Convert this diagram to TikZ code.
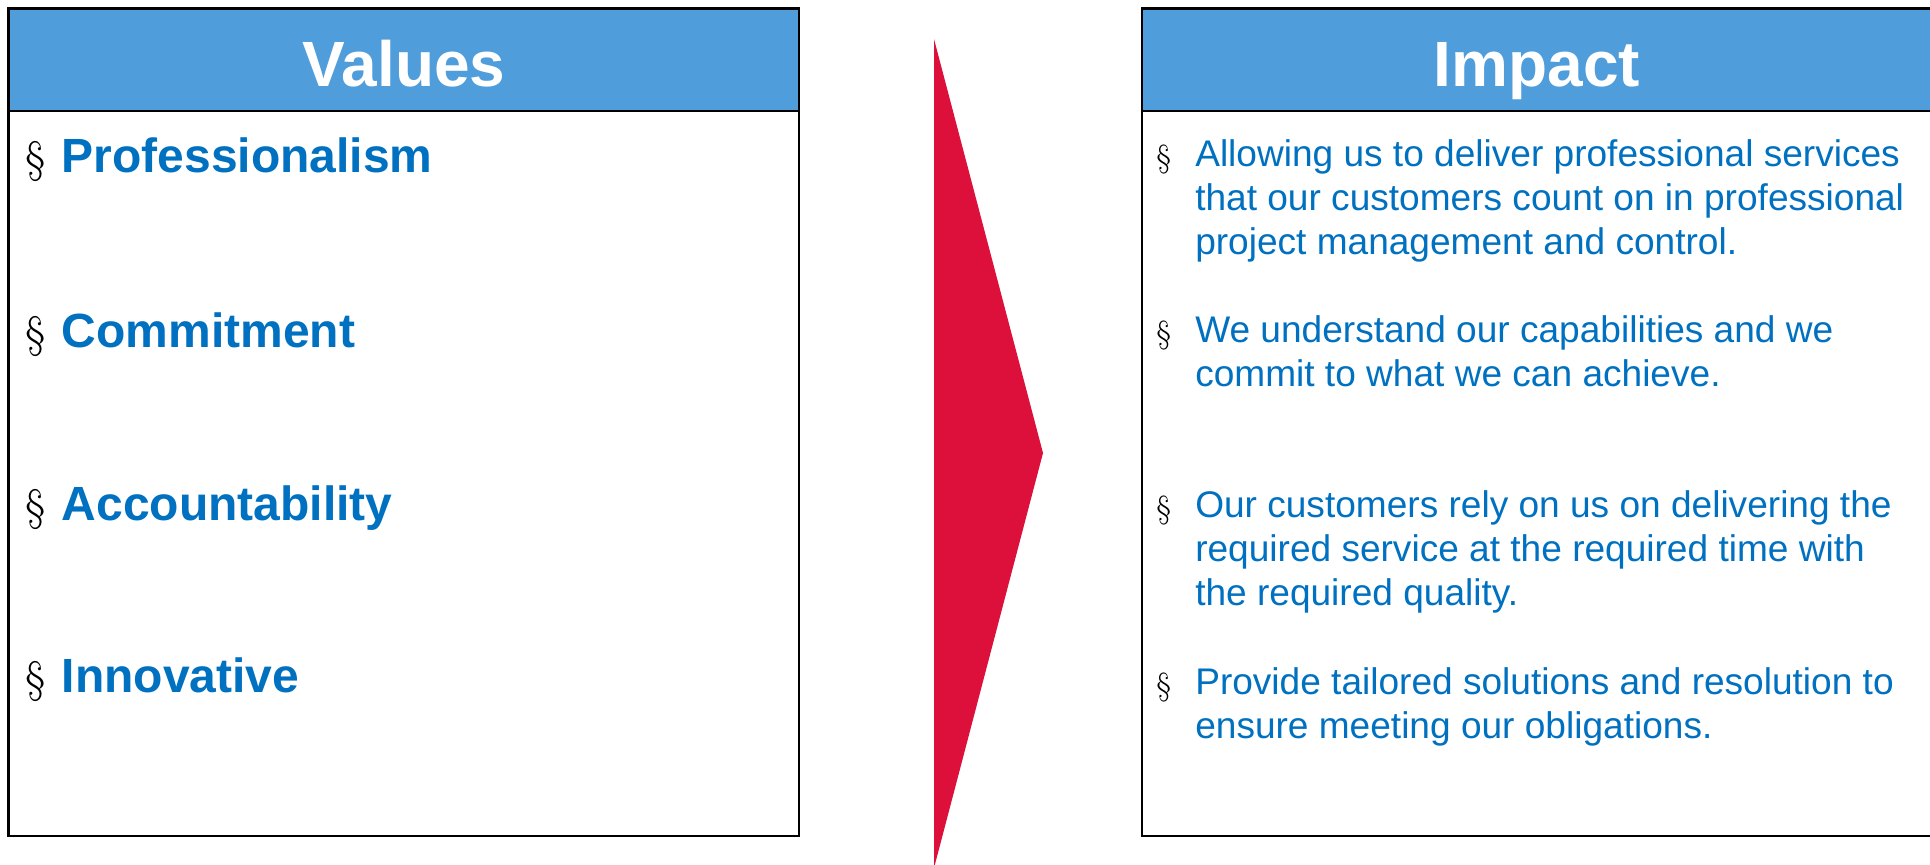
\documentclass[tikz,border=0pt]{standalone}
\usepackage{fontspec}
\newfontfamily\arial{Liberation Sans}
\definecolor{hdrblue}{RGB}{79,157,219}
\definecolor{txtblue}{RGB}{0,112,192}
\definecolor{arrred}{RGB}{220,16,58}
\tikzset{
  frame/.style={draw=black,line width=2.2pt},
  hdr/.style={fill=hdrblue},
  title/.style={anchor=base,inner sep=0pt,text=white,font=\arial\bfseries\fontsize{48}{50}\selectfont},
  sect/.style={anchor=base west,inner sep=0pt,text=black},
  valitem/.style={anchor=base west,inner sep=0pt,text=txtblue,font=\arial\bfseries\fontsize{36}{40}\selectfont},
  impitem/.style={anchor=base west,inner sep=0pt,text=txtblue,align=left,font=\arial\fontsize{27.8}{32.8}\selectfont},
}
\begin{document}
\begin{tikzpicture}[x=0.75pt,y=-0.75pt]
\useasboundingbox (0,0) rectangle (1930,864);
\clip (0,0) rectangle (1930,864);
% Values box
\fill[hdr] (8.6,8.6) rectangle (799,111);
\draw[frame] (8.6,8.6) rectangle (799,836);
\draw[frame] (8.6,111) -- (799,111);
\node[title] (vt) at (404,86) {Values};
% Impact box
\fill[hdr] (1142,8.6) rectangle (1940,111);
\draw[frame] (1142,8.6) rectangle (1940,836);
\draw[frame] (1142,111) -- (1940,111);
\node[title] (it) at (1537,86) {Impact};
% arrow
\fill[arrred] (934,39) -- (1043,453) -- (934,868) -- cycle;
% values items
\node[sect,font=\fontsize{33}{36}\selectfont] (s1) at (25,172) {\S};
\node[valitem] (v1) at (61.5,172) {Professionalism};
\node[sect,font=\fontsize{33}{36}\selectfont] (s2) at (25,347) {\S};
\node[valitem] (v2) at (61.5,347) {Commitment};
\node[sect,font=\fontsize{33}{36}\selectfont] (s3) at (25,520) {\S};
\node[valitem] (v3) at (61.5,520) {Accountability};
\node[sect,font=\fontsize{33}{36}\selectfont] (s4) at (25,692) {\S};
\node[valitem] (v4) at (61.5,692) {Innovative};
% impact items (anchored at the baseline of their last line)
\node[sect,font=\fontsize{24}{26}\selectfont] (t1) at (1156,167) {\S};
\node[impitem] (i1) at (1195,254.4) {Allowing us to deliver professional services\\that our customers count on in professional\\project management and control.};
\node[sect,font=\fontsize{24}{26}\selectfont] (t2) at (1156,343) {\S};
\node[impitem] (i2) at (1195,386.7) {We understand our capabilities and we\\commit to what we can achieve.};
\node[sect,font=\fontsize{24}{26}\selectfont] (t3) at (1156,518) {\S};
\node[impitem] (i3) at (1195,605.4) {Our customers rely on us on delivering the\\required service at the required time with\\the required quality.};
\node[sect,font=\fontsize{24}{26}\selectfont] (t4) at (1156,695) {\S};
\node[impitem] (i4) at (1195,738.7) {Provide tailored solutions and resolution to\\ensure meeting our obligations.};
\end{tikzpicture}
\end{document}
